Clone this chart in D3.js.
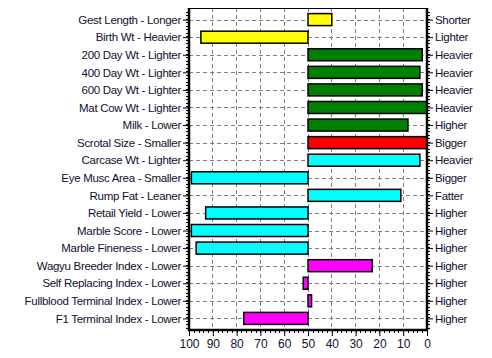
<!DOCTYPE html>
<html><head><meta charset="utf-8">
<script src="https://cdn.jsdelivr.net/npm/d3@7"></script>
<style>body{margin:0;background:#fff}text{font-family:Arial,"Liberation Sans",sans-serif;}</style>
</head><body>
<svg id="c" width="492" height="358"></svg>
<script>
const leftLabels = ["Gest Length - Longer","Birth Wt - Heavier","200 Day Wt - Lighter","400 Day Wt - Lighter","600 Day Wt - Lighter","Mat Cow Wt - Lighter","Milk - Lower","Scrotal Size - Smaller","Carcase Wt - Lighter","Eye Musc Area - Smaller","Rump Fat - Leaner","Retail Yield - Lower","Marble Score - Lower","Marble Fineness - Lower","Wagyu Breeder Index - Lower","Self Replacing Index - Lower","Fullblood Terminal Index - Lower","F1 Terminal Index - Lower"];
const rightLabels = ["Shorter","Lighter","Heavier","Heavier","Heavier","Heavier","Higher","Bigger","Heavier","Bigger","Fatter","Higher","Higher","Higher","Higher","Higher","Higher","Higher"];
const values = [40,95,2,3,2,0,8,0,3,99,11,93,99,97,23,52,48.5,77];
const colors = ["#ffff00","#ffff00","#008000","#008000","#008000","#008000","#008000","#ff0000","#00ffff","#00ffff","#00ffff","#00ffff","#00ffff","#00ffff","#ff00ff","#ff00ff","#ff00ff","#ff00ff"];
const xTicks = [100,90,80,70,60,50,40,30,20,10,0];
const center = 50;

const svg = d3.select("#c");
const L = 189, R = 427, T = 8, B = 330;
const x = d3.scaleLinear().domain([100,0]).range([L,R]);
const y = d3.scalePoint().domain(d3.range(leftLabels.length)).range([T,B]).padding(0.66);
const step = y.step();
const barH = 12;
const font = "Arial,'Liberation Sans',sans-serif";

// grid
const g = svg.append("g");
g.selectAll("line.v").data(xTicks.filter(d=>d!==100&&d!==0)).join("line")
  .attr("x1",d=>x(d)).attr("x2",d=>x(d)).attr("y1",T).attr("y2",B)
  .attr("stroke","#808080").attr("stroke-dasharray","4,3").attr("stroke-width",1).attr("shape-rendering","crispEdges");
g.selectAll("line.h").data(d3.range(leftLabels.length)).join("line")
  .attr("x1",L).attr("x2",R).attr("y1",d=>Math.round(y(d))+0.5).attr("y2",d=>Math.round(y(d))+0.5)
  .attr("stroke","#808080").attr("stroke-dasharray","4,3").attr("stroke-width",1);

// bars
svg.append("g").selectAll("rect").data(values).join("rect")
  .attr("x",d=>Math.min(x(d),x(center)))
  .attr("width",d=>Math.abs(x(d)-x(center)))
  .attr("y",(d,i)=>y(i)-barH/2)
  .attr("height",barH)
  .attr("fill",(d,i)=>colors[i])
  .attr("stroke","#000").attr("stroke-width",1.5);

// frame
svg.append("line").attr("x1",L).attr("x2",R).attr("y1",T+0.5).attr("y2",T+0.5).attr("stroke","#000").attr("stroke-width",1);
svg.append("line").attr("x1",L).attr("x2",L).attr("y1",T).attr("y2",B+1).attr("stroke","#000").attr("stroke-width",2.5);
svg.append("line").attr("x1",R).attr("x2",R).attr("y1",T).attr("y2",B+1).attr("stroke","#000").attr("stroke-width",2.5);

// minor ticks on left/right
const minor = d3.range(T+3.5, B, step/5);
svg.append("g").selectAll("line").data(minor).join("line")
  .attr("x1",L-3).attr("x2",L).attr("y1",d=>Math.round(d)+0.5).attr("y2",d=>Math.round(d)+0.5).attr("stroke","#000");
svg.append("g").selectAll("line").data(minor).join("line")
  .attr("x1",R).attr("x2",R+3).attr("y1",d=>Math.round(d)+0.5).attr("y2",d=>Math.round(d)+0.5).attr("stroke","#000");

// left axis
const ya = svg.append("g").attr("transform",`translate(${L-1},0)`)
  .call(d3.axisLeft(y).tickSize(5).tickPadding(2).tickFormat(i=>leftLabels[i]));
ya.select(".domain").remove();
ya.selectAll("text").attr("font-size",11.5).attr("letter-spacing","-0.3px").attr("fill","#101030").attr("font-family",font);
const yb = svg.append("g").attr("transform",`translate(${R+1},0)`)
  .call(d3.axisRight(y).tickSize(5).tickPadding(2).tickFormat(i=>rightLabels[i]));
yb.select(".domain").remove();
yb.selectAll("text").attr("font-size",11.5).attr("letter-spacing","-0.3px").attr("fill","#101030").attr("font-family",font);

// bottom axis
svg.append("line").attr("x1",L-1).attr("x2",R+1).attr("y1",B).attr("y2",B).attr("stroke","#000").attr("stroke-width",2.5);
svg.append("g").selectAll("line").data(d3.range(0,101,2)).join("line")
  .attr("x1",d=>Math.round(x(d))+0.5).attr("x2",d=>Math.round(x(d))+0.5).attr("y1",B).attr("y2",B+3).attr("stroke","#000");
const xa = svg.append("g").attr("transform",`translate(0,${B+1})`)
  .call(d3.axisBottom(x).tickValues(xTicks).tickSize(5).tickPadding(3).tickFormat(d3.format("d")));
xa.select(".domain").remove();
xa.selectAll("text").attr("font-size",12).attr("fill","#101030").attr("font-family",font);
</script>
</body></html>
